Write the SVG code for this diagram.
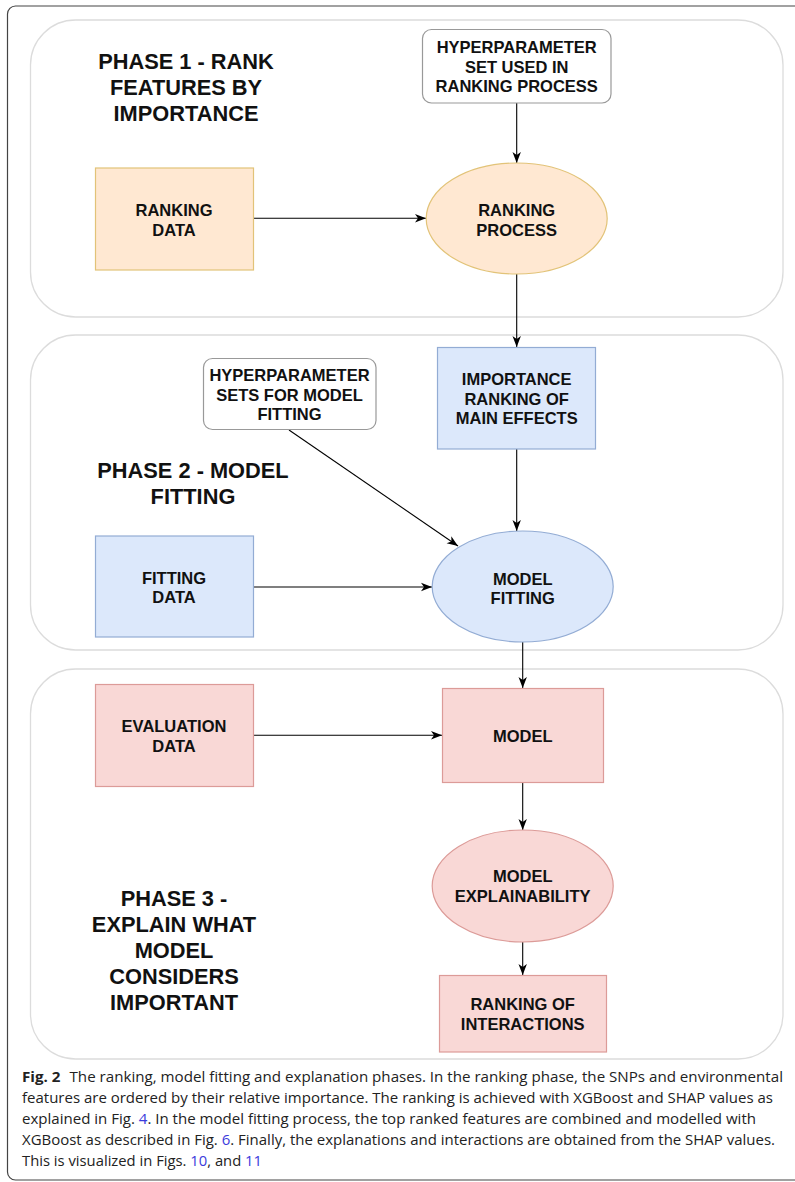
<svg xmlns="http://www.w3.org/2000/svg" width="795" height="1182" viewBox="0 0 795 1182">
<defs>
<style>
.frame{fill:#fff;stroke:#444;stroke-width:1.2}
.phase{fill:#fff;stroke:#dcdcdc;stroke-width:1.3}
.orange{fill:#ffe8d2;stroke:#e2c378;stroke-width:1.2}
.blue{fill:#dce8fb;stroke:#93acd4;stroke-width:1.2}
.red{fill:#f9d8d6;stroke:#dc9b98;stroke-width:1.2}
.plain{fill:#fff;stroke:#999;stroke-width:1.2}
.lbl{font-family:"Liberation Sans",Arial,sans-serif;font-weight:bold;font-size:16.5px;fill:#111;text-anchor:middle}
.title{font-family:"Liberation Sans",Arial,sans-serif;font-weight:bold;font-size:21.8px;fill:#111;text-anchor:middle}
.edge{fill:none;stroke:#000;stroke-width:1.1;marker-end:url(#arr)}
.cap{font-family:"Open Sans","Noto Sans",sans-serif;font-size:14.5px;fill:#222}
.link{fill:#3b3bdc}
</style>
<marker id="arr" markerUnits="userSpaceOnUse" markerWidth="12" markerHeight="10" viewBox="0 0 12 10" refX="11" refY="5" orient="auto">
<path d="M0,0.8 L11,5 L0,9.2 L3,5 Z" fill="#000"/>
</marker>
</defs>

<rect class="frame" x="7.5" y="6" width="820" height="1174" rx="8"/>

<g id="phase1">
<rect class="phase" x="30.5" y="20" width="752.5" height="297" rx="45"/>
<text class="title" x="186" y="68.5">PHASE 1 - RANK</text>
<text class="title" x="186" y="94.5">FEATURES BY</text>
<text class="title" x="186" y="120.5">IMPORTANCE</text>
</g>
<g id="phase2">
<rect class="phase" x="30.5" y="335" width="752.5" height="315" rx="45"/>
<text class="title" x="193" y="478">PHASE 2 - MODEL</text>
<text class="title" x="193" y="503.5">FITTING</text>
</g>
<g id="phase3">
<rect class="phase" x="30.5" y="669" width="752.5" height="390" rx="45"/>
<text class="title" x="174" y="906">PHASE 3 -</text>
<text class="title" x="174" y="932">EXPLAIN WHAT</text>
<text class="title" x="174" y="958">MODEL</text>
<text class="title" x="174" y="984">CONSIDERS</text>
<text class="title" x="174" y="1010">IMPORTANT</text>
</g>

<g id="edges">
<path class="edge" d="M516.7,103 L516.7,163"/>
<path class="edge" d="M254,218.3 L426,218.3"/>
<path class="edge" d="M516.7,274 L516.7,347"/>
<path class="edge" d="M289,430 L458,546"/>
<path class="edge" d="M516.7,449 L516.7,531"/>
<path class="edge" d="M254,587 L432,587"/>
<path class="edge" d="M522.7,642 L522.7,688"/>
<path class="edge" d="M254,735.3 L442,735.3"/>
<path class="edge" d="M522.7,782 L522.7,830"/>
<path class="edge" d="M522.7,942 L522.7,975"/>
</g>

<g id="hyper1">
<rect class="plain" x="422.5" y="29.5" width="188.5" height="73.5" rx="9"/>
<text class="lbl" x="516.7" y="53">HYPERPARAMETER</text>
<text class="lbl" x="516.7" y="72.5">SET USED IN</text>
<text class="lbl" x="516.7" y="92">RANKING PROCESS</text>
</g>
<g id="rankingData">
<rect class="orange" x="95.5" y="168" width="158" height="102"/>
<text class="lbl" x="174" y="216">RANKING</text>
<text class="lbl" x="174" y="235.5">DATA</text>
</g>
<g id="rankingProcess">
<ellipse class="orange" cx="516.7" cy="218.5" rx="90.5" ry="55.5"/>
<text class="lbl" x="516.7" y="216">RANKING</text>
<text class="lbl" x="516.7" y="235.5">PROCESS</text>
</g>
<g id="importanceRanking">
<rect class="blue" x="437.5" y="347.5" width="158" height="101.5"/>
<text class="lbl" x="516.7" y="385">IMPORTANCE</text>
<text class="lbl" x="516.7" y="404.5">RANKING OF</text>
<text class="lbl" x="516.7" y="424">MAIN EFFECTS</text>
</g>
<g id="hyper2">
<rect class="plain" x="203.5" y="358.5" width="172.5" height="71" rx="9"/>
<text class="lbl" x="289.5" y="381">HYPERPARAMETER</text>
<text class="lbl" x="289.5" y="400.5">SETS FOR MODEL</text>
<text class="lbl" x="289.5" y="419.5">FITTING</text>
</g>
<g id="fittingData">
<rect class="blue" x="95.5" y="536" width="158" height="101"/>
<text class="lbl" x="174" y="583.5">FITTING</text>
<text class="lbl" x="174" y="603">DATA</text>
</g>
<g id="modelFitting">
<ellipse class="blue" cx="522.7" cy="586.5" rx="90.5" ry="55.5"/>
<text class="lbl" x="522.7" y="584.5">MODEL</text>
<text class="lbl" x="522.7" y="603.5">FITTING</text>
</g>
<g id="evaluationData">
<rect class="red" x="95.5" y="684.5" width="158" height="102"/>
<text class="lbl" x="174" y="732">EVALUATION</text>
<text class="lbl" x="174" y="752">DATA</text>
</g>
<g id="model">
<rect class="red" x="442.5" y="688.5" width="161" height="94"/>
<text class="lbl" x="522.7" y="742">MODEL</text>
</g>
<g id="modelExplainability">
<ellipse class="red" cx="522.7" cy="886" rx="90.5" ry="56"/>
<text class="lbl" x="522.7" y="882">MODEL</text>
<text class="lbl" x="522.7" y="902">EXPLAINABILITY</text>
</g>
<g id="rankingInteractions">
<rect class="red" x="439.5" y="975.5" width="167" height="76.5"/>
<text class="lbl" x="522.7" y="1010">RANKING OF</text>
<text class="lbl" x="522.7" y="1029.5">INTERACTIONS</text>
</g>

<g id="caption">
<text class="cap" x="22" y="1082" textLength="761" lengthAdjust="spacingAndGlyphs"><tspan font-weight="bold">Fig. 2</tspan><tspan dx="5"> The ranking, model fitting and explanation phases. In the ranking phase, the SNPs and environmental</tspan></text>
<text class="cap" x="22" y="1103" textLength="751" lengthAdjust="spacingAndGlyphs">features are ordered by their relative importance. The ranking is achieved with XGBoost and SHAP values as</text>
<text class="cap" x="22" y="1124" textLength="734" lengthAdjust="spacingAndGlyphs">explained in Fig. <tspan class="link">4</tspan>. In the model fitting process, the top ranked features are combined and modelled with</text>
<text class="cap" x="22" y="1145" textLength="753" lengthAdjust="spacingAndGlyphs">XGBoost as described in Fig. <tspan class="link">6</tspan>. Finally, the explanations and interactions are obtained from the SHAP values.</text>
<text class="cap" x="22" y="1166" textLength="240" lengthAdjust="spacingAndGlyphs">This is visualized in Figs. <tspan class="link">10</tspan>, and <tspan class="link">11</tspan></text>
</g>
</svg>
